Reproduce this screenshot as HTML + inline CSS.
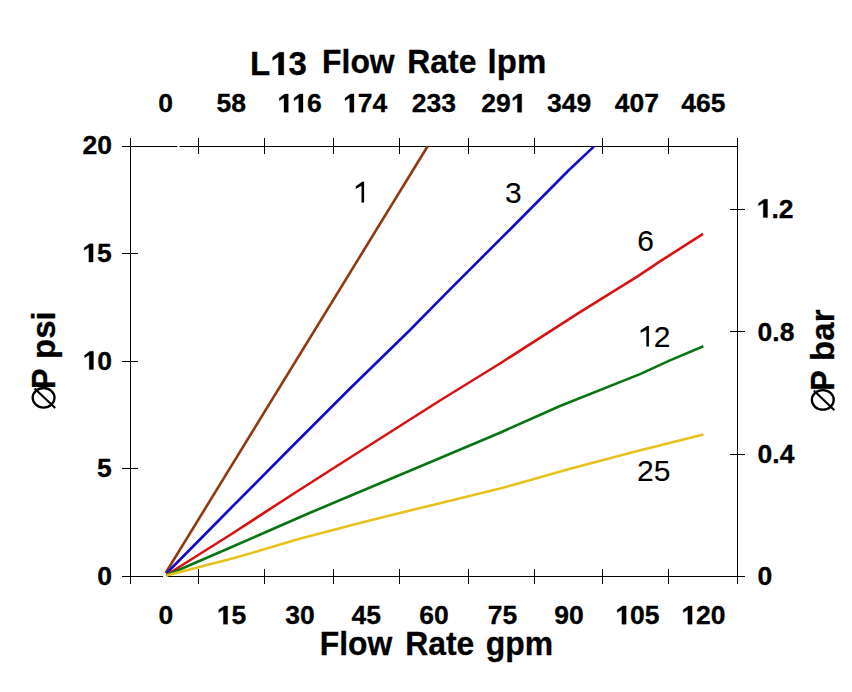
<!DOCTYPE html><html><head><meta charset="utf-8"><title>L13 Flow Rate chart</title><style>html,body{margin:0;padding:0;background:#fff;overflow:hidden}svg{display:block}text{font-family:"Liberation Sans",sans-serif;font-kerning:none;font-feature-settings:"kern" 0;fill:#000}.b{font-weight:bold;stroke:#000;stroke-width:0.3px;stroke-linejoin:round}.r{font-weight:normal;stroke:#000;stroke-width:0.1px}.h{fill:transparent;stroke:none}</style></head><body>
<svg width="852" height="692" viewBox="0 0 852 692">
<rect width="852" height="692" fill="#fff"/>
<g stroke="#000" stroke-width="1" shape-rendering="crispEdges" fill="none">
<path d="M122 146.5H738M122 576.5H745M130.5 138V584M737.5 138V584"/>
<path d="M198.5 138V154M198.5 569V584M264.5 138V154M264.5 569V584M333.5 138V154M333.5 569V584M399.5 138V154M399.5 569V584M468.5 138V154M468.5 569V584M534.5 138V154M534.5 569V584M602.5 138V154M602.5 569V584M668.5 138V154M668.5 569V584M122 253.5H138M122 361.5H138M122 468.5H138M730 209.5H745M730 331.5H745M730 454.5H745"/>
</g>
<rect x="177.5" y="145.5" width="2" height="2" fill="#fff"/>
<rect x="163" y="575.5" width="4.5" height="2" fill="#f4f0d0"/>
<g fill="none" stroke-width="2.6" stroke-linejoin="round" stroke-linecap="butt">
<path d="M165.6,573 L427.5,146.5" stroke="#923810"/>
<path d="M166.8,573 L229.5,509.5 L289.5,449 L349.5,389 L409,331 L450,289.3 L509.5,230 L569,170 L593.8,146.6" stroke="#1208cc"/>
<path d="M166.5,575 L230,535 L290,496 L346.3,460 L440,400.5 L500,363.5 L580,312.1 L638,276.1 L660,261.4 L703,233.9" stroke="#d81212"/>
<path d="M166.5,575.2 L230,547.7 L310,512.8 L367,488.8 L420,466.5 L500,432.7 L560,406 L640,374.1 L670,360.4 L703.4,346.3" stroke="#087412"/>
<path d="M166.5,575.5 L233.2,558.3 L260,550.6 L300.4,538.6 L367.6,520.9 L434.8,504.4 L502,488 L569.2,469 L636.4,451.2 L703.5,434.6" stroke="#e8c21c"/>
</g>
<g>
<text class="b" font-size="26.5" x="82.61" y="154">20</text>
<text class="b" font-size="26.5" x="82.26" y="262"><tspan class="h">1</tspan>5</text>
<text class="b" font-size="26.5" x="82.61" y="369.5"><tspan class="h">1</tspan>0</text>
<text class="b" font-size="26.5" x="97" y="476.8">5</text>
<text class="b" font-size="26.5" x="97.35" y="584.6">0</text>
<text class="b" font-size="26.5" x="756.66" y="217.5"><tspan class="h">1</tspan>.2</text>
<text class="b" font-size="26.5" x="757.55" y="340.6">0.8</text>
<text class="b" font-size="26.5" x="757.55" y="462.8">0.4</text>
<text class="b" font-size="26.5" x="757.55" y="584.6">0</text>
<text class="b" font-size="26.5" x="158.25" y="112.3">0</text>
<text class="b" font-size="26.5" x="216.46" y="112.3">58</text>
<text class="b" font-size="26.5" x="277.4" y="112.3"><tspan class="h">1</tspan><tspan class="h">1</tspan>6</text>
<text class="b" font-size="26.5" x="343.09" y="112.3"><tspan class="h">1</tspan>74</text>
<text class="b" font-size="26.5" x="411.81" y="112.3">233</text>
<text class="b" font-size="26.5" x="481.37" y="112.3">29<tspan class="h">1</tspan></text>
<text class="b" font-size="26.5" x="547.08" y="112.3">349</text>
<text class="b" font-size="26.5" x="614.87" y="112.3">407</text>
<text class="b" font-size="26.5" x="681.26" y="112.3">465</text>
<text class="b" font-size="26.5" x="158.45" y="624.2">0</text>
<text class="b" font-size="26.5" x="216.76" y="624.2"><tspan class="h">1</tspan>5</text>
<text class="b" font-size="26.5" x="285.2" y="624.2">30</text>
<text class="b" font-size="26.5" x="351.43" y="624.2">45</text>
<text class="b" font-size="26.5" x="419.22" y="624.2">60</text>
<text class="b" font-size="26.5" x="487.66" y="624.2">75</text>
<text class="b" font-size="26.5" x="554.15" y="624.2">90</text>
<text class="b" font-size="26.5" x="615.29" y="624.2"><tspan class="h">1</tspan>05</text>
<text class="b" font-size="26.5" x="681.27" y="624.2"><tspan class="h">1</tspan>20</text>
<text class="b" font-size="33" x="250.09" y="74.9">L<tspan class="h">1</tspan>3</text>
<text class="b" font-size="33" transform="translate(322.07 73.1) scale(0.966 1)">Flow</text>
<text class="b" font-size="33" transform="translate(407.26 73.1) scale(0.968 1)">Rate</text>
<text class="b" font-size="33" x="487.6" y="73.1">lpm</text>
<text class="b" font-size="33" transform="translate(319.67 655) scale(0.966 1)">Flow</text>
<text class="b" font-size="33" transform="translate(405.16 655) scale(0.968 1)">Rate</text>
<text class="b" font-size="33" transform="translate(485.79 655) scale(0.967 1)">gpm</text>
<text class="b" font-size="33" transform="translate(54.8 388.95) rotate(-90) scale(0.93 1)">P</text>
<text class="b" font-size="33" transform="translate(54.8 358.98) rotate(-90)">psi</text>
<text class="b" font-size="33" transform="translate(833.6 390.85) rotate(-90) scale(0.93 1)">P</text>
<text class="b" font-size="33" transform="translate(833.6 360.88) rotate(-90)">bar</text>
<text class="r" font-size="30" x="352.19" y="202.4"><tspan class="h">1</tspan></text>
<text class="r" font-size="30" x="504.95" y="202.7">3</text>
<text class="r" font-size="30" x="637.26" y="251.2">6</text>
<text class="r" font-size="30" x="637.04" y="346.6"><tspan class="h">1</tspan>2</text>
<text class="r" font-size="30" x="637.09" y="480.8">25</text>
</g>
<path fill="#000" stroke="#000" stroke-width="0.3" stroke-linejoin="round" d="M88.86 262V247.51L84.2 250.35V247.64L89.64 243.77H93.13V262ZM89.21 369.5V355.01L84.55 357.85V355.14L89.99 351.27H93.48V369.5ZM763.26 217.5V203.01L758.6 205.85V203.14L764.03 199.27H767.53V217.5ZM284 112.3V97.81L279.34 100.65V97.94L284.78 94.07H288.27V112.3ZM298.74 112.3V97.81L294.08 100.65V97.94L299.51 94.07H303.01V112.3ZM349.69 112.3V97.81L345.03 100.65V97.94L350.47 94.07H353.96V112.3ZM517.44 112.3V97.81L512.79 100.65V97.94L518.22 94.07H521.71V112.3ZM223.36 624.2V609.71L218.7 612.55V609.84L224.14 605.97H227.63V624.2ZM621.89 624.2V609.71L617.23 612.55V609.84L622.67 605.97H626.16V624.2ZM687.87 624.2V609.71L683.21 612.55V609.84L688.64 605.97H692.14V624.2ZM278.47 74.9V56.85L272.67 60.4V57.01L279.43 52.2H283.79V74.9Z"/>
<path fill="#000" stroke="#000" stroke-width="0.1" d="M361.56 202.4V185.85L355.85 188.63V186.14L362.29 181.76H364.05V202.4ZM646.41 346.6V330.05L640.7 332.83V330.34L647.15 325.96H648.9V346.6Z"/>
<text class="h" font-size="30" transform="translate(54.6 408.8) rotate(-90)">&#8709;</text>
<ellipse cx="43.6" cy="397.8" rx="10.9" ry="9.8" fill="none" stroke="#000" stroke-width="2.3"/>
<path d="M34.6 388.4L55.2 408.1" stroke="#000" stroke-width="2.1"/>
<text class="h" font-size="30" transform="translate(833.8 410.9) rotate(-90)">&#8709;</text>
<ellipse cx="822.8" cy="399.9" rx="10.9" ry="9.8" fill="none" stroke="#000" stroke-width="2.3"/>
<path d="M813.8 390.5L834.4 410.2" stroke="#000" stroke-width="2.1"/>
</svg></body></html>
